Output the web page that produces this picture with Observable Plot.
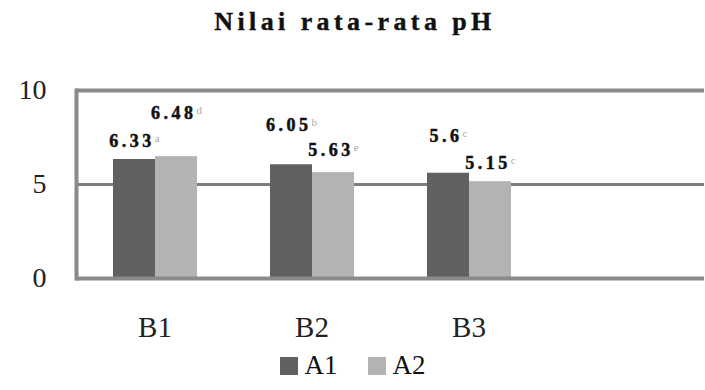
<!DOCTYPE html>
<html>
<head>
<meta charset="utf-8">
<script src="https://cdn.jsdelivr.net/npm/d3@7"></script>
<script src="https://cdn.jsdelivr.net/npm/@observablehq/plot@0.6"></script>
<style>
  body { margin: 0; background: #fff; width: 705px; height: 390px; position: relative; overflow: hidden;
         font-family: "Liberation Serif", "DejaVu Serif", serif; color: #111; }
  #title { position: absolute; left: 0; top: 9px; width: 705px; padding-left: 5px; box-sizing: border-box;
           text-align: center; font-size: 26px; line-height: 26px; font-weight: bold; letter-spacing: 4.4px;
           -webkit-text-stroke: 0.4px #111; }
  #chart { position: absolute; left: 0; top: 50px; }
  #legend { position: absolute; left: 0; top: 352px; width: 705px; display: flex; justify-content: center;
            align-items: center; gap: 30px; font-size: 27px; line-height: 27px; }
  #legend .item { display: flex; align-items: center; gap: 7px; }
  #legend .sw { width: 18px; height: 18px; display: inline-block; }
</style>
</head>
<body>
<div id="title">Nilai rata-rata pH</div>
<div id="chart"></div>
<div id="legend"></div>
<script>
// ---- data ----
const groups = ["B1", "B2", "B3"];
const series = ["A1", "A2"];
const a1Values = [6.33, 6.05, 5.6];
const a2Values = [6.48, 5.63, 5.15];
const a1Letters = ["a", "b", "c"];
const a2Letters = ["d", "e", "c"];
const yTicks = [0, 5, 10];
const seriesColors = ["#606060", "#b3b3b3"];

// ---- build table ----
const table = [];
groups.forEach((g, i) => {
  table.push({group: g, series: "A1", value: a1Values[i], letter: a1Letters[i]});
  table.push({group: g, series: "A2", value: a2Values[i], letter: a2Letters[i]});
});
const fxDomain = [...groups, ""];   // the category axis leaves room for one more (empty) slot
const gridRows = fxDomain.flatMap(g => yTicks.map(t => ({g, t})));

// label lift above each bar (style offsets, in table order)
const lift = [12, 38, 34, 17, 31, 13];

const labelMarks = table.map((d, i) => Plot.text([d], {
  fx: "group", x: "series", y: "value",
  text: r => `${r.value}|${r.letter}`,
  dy: -lift[i], lineAnchor: "bottom",
  fontWeight: "bold", fontSize: 18, fill: "#111", stroke: "#111", strokeWidth: 0.5
}));

const chart = Plot.plot({
  width: 705, height: 305,
  marginTop: 40, marginBottom: 77, marginLeft: 75, marginRight: 0,
  style: {fontFamily: "'Liberation Serif', serif", background: "transparent", color: "#111"},
  fx: {domain: fxDomain, padding: 0, label: null},
  x: {domain: series, paddingInner: 0, paddingOuter: 0.83, axis: null},
  y: {domain: [0, 10], label: null},
  color: {domain: series, range: seriesColors},
  marks: [
    Plot.ruleY(gridRows.filter(r => r.t === 5), {fx: "g", y: "t", stroke: "#7d7d7d", strokeWidth: 3}),
    Plot.barY(table, {fx: "group", x: "series", y: "value", fill: "series"}),
    Plot.ruleY(gridRows.filter(r => r.t !== 5), {fx: "g", y: "t", stroke: "#8a8a8a", strokeWidth: 4}),
    Plot.frame({anchor: "left", facetAnchor: "left", stroke: "#8a8a8a", strokeWidth: 4}),
    Plot.axisY({ticks: yTicks, tickSize: 0, tickPadding: 30, fontSize: 28, label: null, fill: "#222"}),
    Plot.axisFx({anchor: "bottom", tickSize: 0, tickPadding: 38, fontSize: 29, label: null, fill: "#222"}),
    ...labelMarks
  ]
});
document.getElementById("chart").appendChild(chart);

// split "value|letter" into number + small grey superscript letter
chart.querySelectorAll("text").forEach(t => {
  const s = t.textContent;
  if (!s.includes("|")) return;
  const [num, letter] = s.split("|");
  t.textContent = num;
  t.setAttribute("letter-spacing", "3.5");
  const ts = document.createElementNS("http://www.w3.org/2000/svg", "tspan");
  ts.textContent = letter;
  ts.setAttribute("font-size", "11");
  ts.setAttribute("font-weight", "normal");
  ts.setAttribute("fill", "#a8a8a8");
  ts.setAttribute("stroke", "none");
  ts.setAttribute("dy", "-5");
  ts.setAttribute("letter-spacing", "0");
  t.appendChild(ts);
});

// legend
const legend = document.getElementById("legend");
series.forEach((s, i) => {
  const item = document.createElement("span");
  item.className = "item";
  const sw = document.createElement("span");
  sw.className = "sw";
  sw.style.background = seriesColors[i];
  const lab = document.createElement("span");
  lab.textContent = s;
  item.appendChild(sw);
  item.appendChild(lab);
  legend.appendChild(item);
});
</script>
</body>
</html>
